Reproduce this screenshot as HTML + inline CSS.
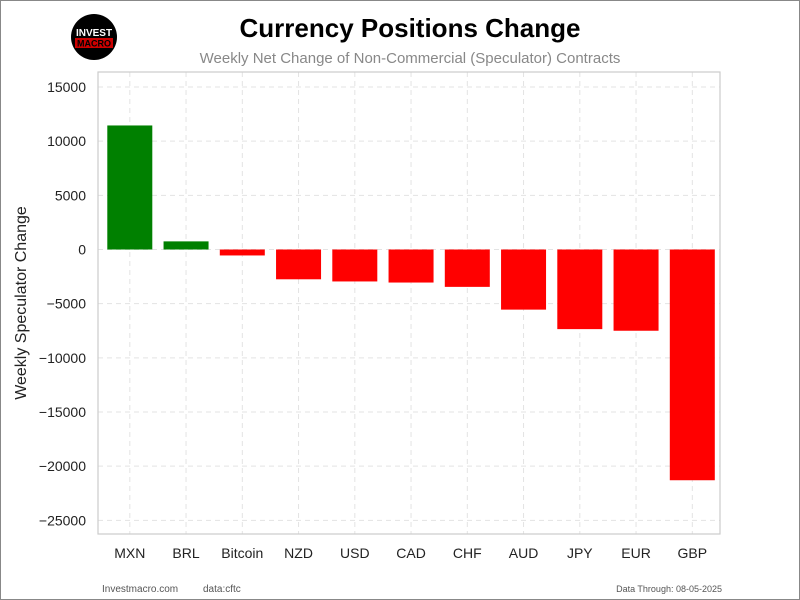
<!DOCTYPE html>
<html><head><meta charset="utf-8"><style>
body{margin:0;background:#fff;}
#wrap{position:relative;width:798px;height:598px;border:1px solid #888;background:#fff;overflow:hidden;font-family:"Liberation Sans",sans-serif;}
</style></head><body>
<div id="wrap">
<svg id="chart" width="798" height="598" viewBox="1 1 798 598">
<g>
<circle cx="94" cy="37" r="23" fill="#000"/>
<text x="94" y="36" font-size="10" font-weight="bold" fill="#fff" text-anchor="middle">INVEST</text>
<rect x="75" y="38" width="38" height="10" fill="#c00"/>
<text x="94" y="46.5" font-size="9" font-weight="bold" fill="#000" text-anchor="middle">MACRO</text>
</g>
<text x="410" y="37" font-size="26" font-weight="bold" text-anchor="middle" fill="#000">Currency Positions Change</text>
<text x="410" y="63" font-size="15" text-anchor="middle" fill="#888">Weekly Net Change of Non-Commercial (Speculator) Contracts</text>
<text transform="translate(26,303) rotate(-90)" font-size="16" text-anchor="middle" fill="#222">Weekly Speculator Change</text>
<g id="grid"></g><g id="bars"></g><g id="ticks"></g>
<rect x="98" y="72" width="622" height="462" fill="none" stroke="#ccc" stroke-width="1.2"/>
<text x="102" y="592" font-size="10" fill="#555">Investmacro.com</text>
<text x="203" y="592" font-size="10" fill="#555">data:cftc</text>
<text x="722" y="592" font-size="9" fill="#555" text-anchor="end">Data Through: 08-05-2025</text>
</svg>
</div>
<script>
const categories=["MXN","BRL","Bitcoin","NZD","USD","CAD","CHF","AUD","JPY","EUR","GBP"];
const values=[11450,750,-550,-2750,-2950,-3050,-3450,-5550,-7350,-7500,-21300];
const yTicks=[15000,10000,5000,0,-5000,-10000,-15000,-20000,-25000];
const ns="http://www.w3.org/2000/svg";
const L=98,R=720;
const x=i=>129.8+i*56.25;
const y=v=>249.5-v*0.010833;
const bw=45;
const grid=document.getElementById('grid'),bars=document.getElementById('bars'),ticks=document.getElementById('ticks');
function mk(t,a,p){const e=document.createElementNS(ns,t);for(const k in a)e.setAttribute(k,a[k]);p.appendChild(e);return e;}
yTicks.forEach(v=>{
 const g=mk('line',{x1:L,x2:R,y1:y(v),y2:y(v),stroke:'#e3e3e3','stroke-dasharray':'5,4'},grid);
 
 
 const t=mk('text',{x:L-12,y:y(v)+5,'font-size':14,'text-anchor':'end',fill:'#222'},ticks);
 t.textContent=v<0?'\u2212'+Math.abs(v):String(v);
 
 
});
categories.forEach((c,i)=>{
 const g=mk('line',{x1:x(i),x2:x(i),y1:72,y2:534,stroke:'#e3e3e3','stroke-dasharray':'5,4'},grid);
 
 
 const v=values[i];
 const b=mk('rect',{x:x(i)-bw/2,y:Math.min(y(v),y(0)),width:bw,height:Math.abs(y(v)-y(0)),fill:v>=0?'#008000':'#ff0000'},bars);
 
 
 const t=mk('text',{x:x(i),y:558,'font-size':14,'text-anchor':'middle',fill:'#222'},ticks);
 t.textContent=c;
 
 
});
</script>
</body></html>
